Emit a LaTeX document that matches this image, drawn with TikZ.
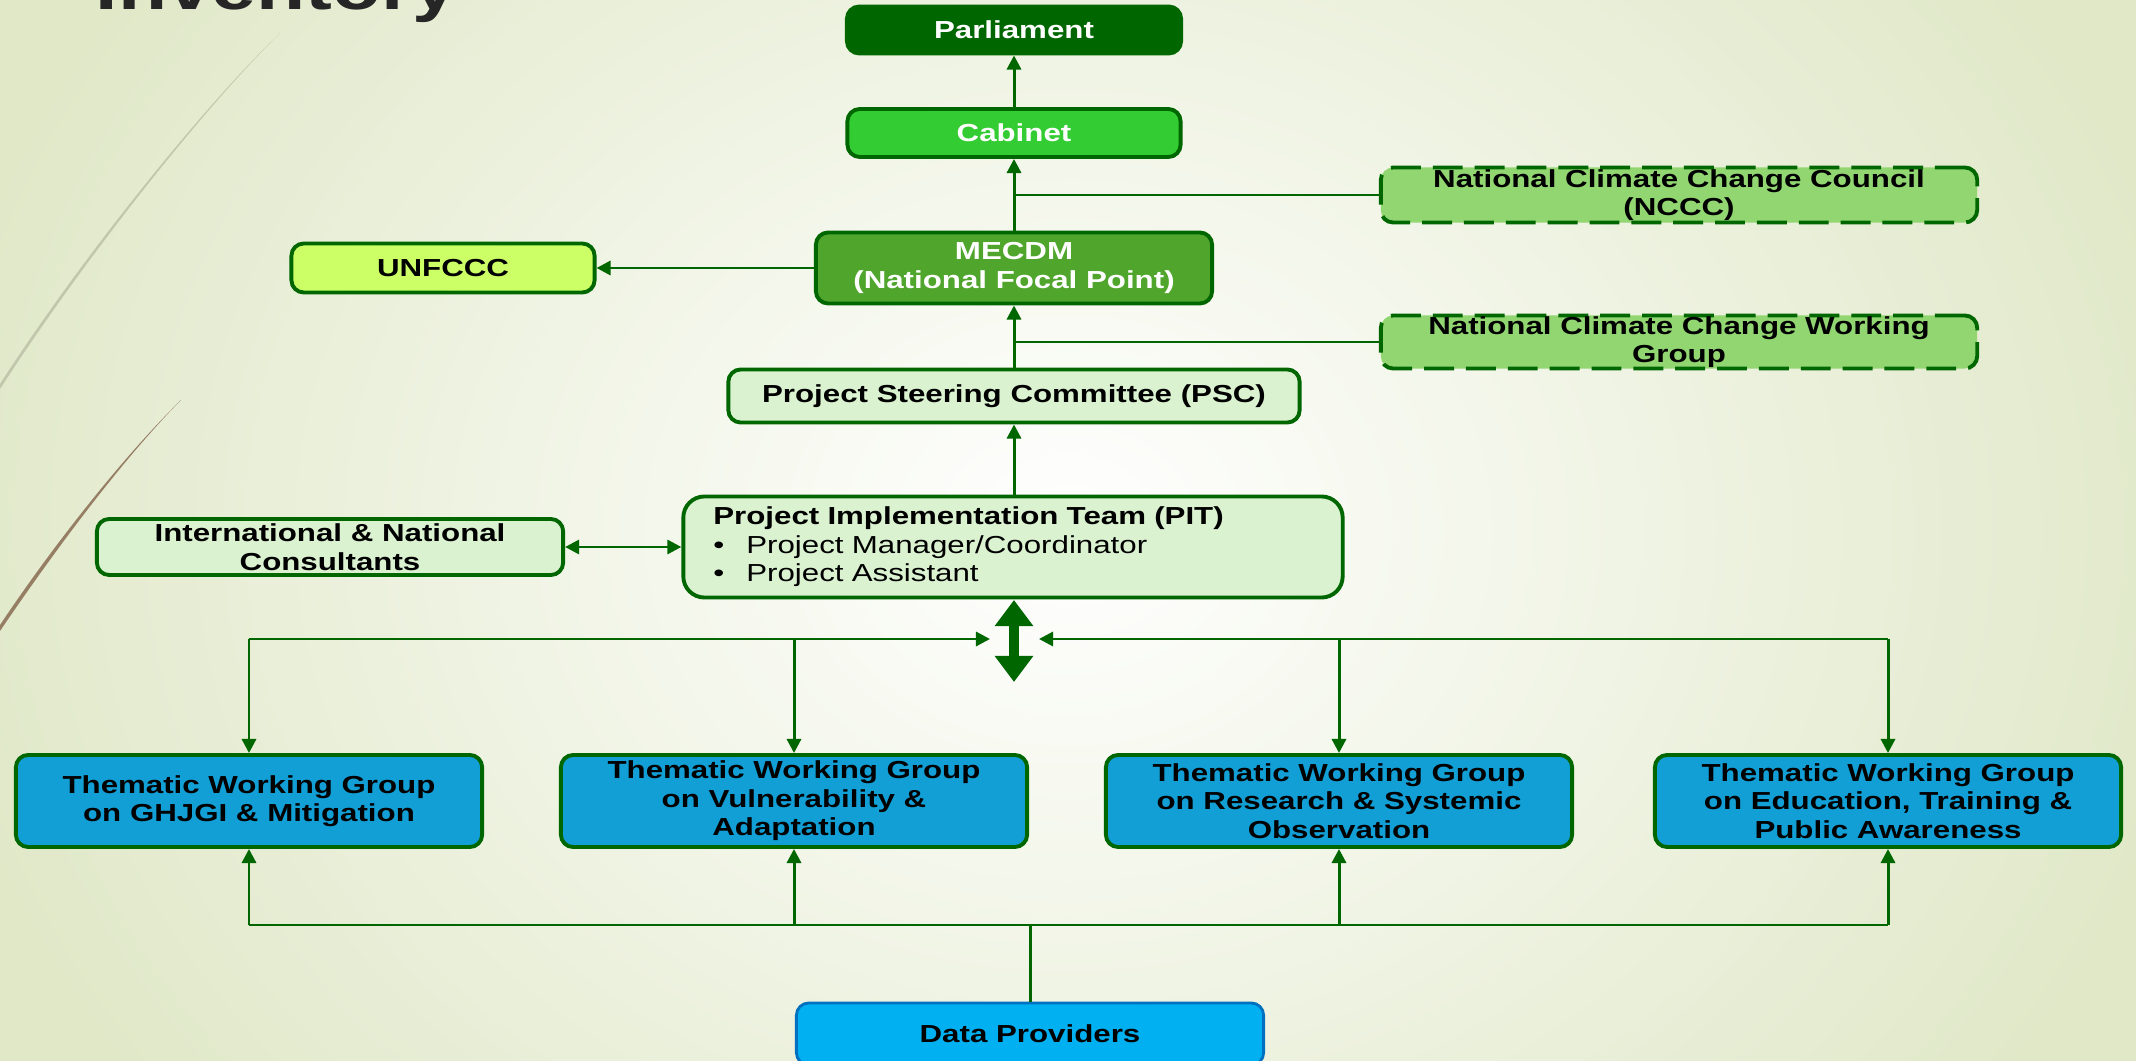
\documentclass[tikz,border=0pt]{standalone}
\usepackage{fontspec}
\setmainfont{Liberation Sans}[FakeStretch=1.27]
\usetikzlibrary{arrows.meta}

\definecolor{linegreen}{RGB}{0,102,0}
\definecolor{parlgreen}{RGB}{0,102,0}
\definecolor{cabgreen}{RGB}{51,204,51}
\definecolor{mecgreen}{RGB}{80,165,45}
\definecolor{councilgreen}{RGB}{146,214,114}
\definecolor{unfcccgreen}{RGB}{204,255,102}
\definecolor{palegreen}{RGB}{218,242,208}
\definecolor{twgblue}{RGB}{18,159,214}
\definecolor{datablue}{RGB}{0,176,240}
\definecolor{databorder}{RGB}{0,112,192}
\definecolor{bgedge}{RGB}{224,232,200}
\definecolor{titlegrey}{RGB}{38,38,38}

\tikzset{
  box/.style={draw=linegreen, line width=1.1pt, rounded corners=3.5pt,
    align=center, inner sep=0pt,
    font=\bfseries\fontsize{7}{8.1}\selectfont},
  darkbox/.style={box, fill=parlgreen, text=white},
  cabbox/.style={box, fill=cabgreen, text=white},
  mecbox/.style={box, fill=mecgreen, text=white},
  councilbox/.style={box, fill=councilgreen, dash pattern=on 8.5pt off 3.4pt},
  limebox/.style={box, fill=unfcccgreen},
  palebox/.style={box, fill=palegreen},
  twgbox/.style={box, fill=twgblue, minimum width=4.66cm, minimum height=0.92cm},
  databox/.style={box, fill=datablue, draw=databorder, line width=0.8pt},
  link/.style={draw=linegreen, line width=0.85pt, -{Triangle[length=4pt,width=4pt]}},
  twoway/.style={draw=linegreen, line width=0.85pt,
    {Triangle[length=4pt,width=4pt]}-{Triangle[length=4pt,width=4pt]}},
  plain/.style={draw=linegreen, line width=0.85pt},
  hubarrow/.style={draw=linegreen, line width=3.1pt,
    {Triangle[length=7.4pt,width=10.5pt]}-{Triangle[length=7.4pt,width=10.5pt]}}
}

\begin{document}
\begin{tikzpicture}[x=0.01cm, y=-0.01cm]
    % page and background
    \clip (0,0) rectangle (2136,1061);
    \useasboundingbox (0,0) rectangle (2136,1061);
    \shade[inner color=white, outer color=bgedge] (-80,-420) rectangle (2216,1480);
    \fill[black!14!bgedge] (280,33) .. controls (200,110) and (80,260) .. (0,384)
        -- (0,389) .. controls (82,262) and (201,111) .. (280,33) -- cycle;
    \fill[brown!55!black!70] (181,400) .. controls (120,460) and (50,550) .. (0,625)
        -- (0,631) .. controls (53,553) and (121,461) .. (181,400) -- cycle;

    % cut-off title
    \node[anchor=base west, inner sep=0pt, text=titlegrey,
        font=\bfseries\fontsize{18}{18}\selectfont] (title) at (95,10) {Inventory};

    % upper chain
    \node[darkbox, minimum width=3.34cm, minimum height=0.47cm] (parl) at (1014,30) {Parliament};
    \node[cabbox, minimum width=3.33cm, minimum height=0.48cm] (cab) at (1014,133) {Cabinet};
    \node[councilbox, minimum width=5.96cm, minimum height=0.55cm] (nccc) at (1679,195)
        {National Climate Change Council\\(NCCC)};
    \node[limebox, minimum width=3.03cm, minimum height=0.49cm] (unfccc) at (443,268) {UNFCCC};
    \node[mecbox, minimum width=3.96cm, minimum height=0.71cm] (mecdm) at (1014,268)
        {MECDM\\(National Focal Point)};
    \node[councilbox, minimum width=5.96cm, minimum height=0.53cm] (nccwg) at (1679,342)
        {National Climate Change Working\\Group};
    \node[palebox, minimum width=5.71cm, minimum height=0.53cm] (psc) at (1014,396)
        {Project Steering Committee (PSC)};

    % implementation team
    \node[palebox, minimum width=4.66cm, minimum height=0.56cm] (cons) at (330,547)
        {International \& National\\Consultants};
    \node[palebox, rounded corners=6pt, minimum width=6.59cm, minimum height=1.01cm,
        text width=5.99cm, inner xsep=0.3cm, align=left] (pit) at (1013,547)
        {Project Implementation Team (PIT)\\
         {\mdseries\makebox[0.33cm][l]{\textbullet}Project Manager/Coordinator}\\
         {\mdseries\makebox[0.33cm][l]{\textbullet}Project Assistant}};

    % thematic working groups
    \node[twgbox] (twg1) at (249,801) {Thematic Working Group\\on GHJGI \& Mitigation};
    \node[twgbox] (twg2) at (794,801) {Thematic Working Group\\on Vulnerability \&\\Adaptation};
    \node[twgbox] (twg3) at (1339,801) {Thematic Working Group\\on Research \& Systemic\\Observation};
    \node[twgbox] (twg4) at (1888,801) {Thematic Working Group\\on Education, Training \&\\Public Awareness};

    \node[databox, minimum width=4.67cm, minimum height=0.62cm] (data) at (1030,1034) {Data Providers};

    % upward links
    \draw[link] (cab) -- (parl);
    \draw[link] (mecdm) -- (cab);
    \draw[plain] (nccc.west) -- (nccc.west -| cab);
    \draw[link] (mecdm.west) -- (unfccc.east);
    \draw[link] (psc.north -| mecdm) -- (mecdm.south);
    \draw[plain] (nccwg.west) -- (nccwg.west -| mecdm);
    \draw[link] (pit.north -| psc) -- (psc.south);
    \draw[twoway] (cons.east) -- (pit.west);

    % hub below the team
    \coordinate (hubtop) at (1014,600);
    \coordinate (hubbot) at (1014,682);
    \coordinate (hubL) at (990,639);
    \coordinate (hubR) at (1039,639);
    \draw[hubarrow] (hubtop) -- (hubbot);
    \draw[link] (twg1.north |- hubL) -- (hubL);
    \draw[link] (twg4.north |- hubR) -- (hubR);
    \foreach \g in {twg1,twg2,twg3,twg4}
        \draw[link] (\g.north |- hubL) -- (\g.north);

    % data bus
    \coordinate (bus) at (1030,925);
    \draw[plain] (data.north) -- (data.north |- bus);
    \draw[plain] (twg1.south |- bus) -- (twg4.south |- bus);
    \foreach \g in {twg1,twg2,twg3,twg4}
        \draw[link] (\g.south |- bus) -- (\g.south);
\end{tikzpicture}
\end{document}
